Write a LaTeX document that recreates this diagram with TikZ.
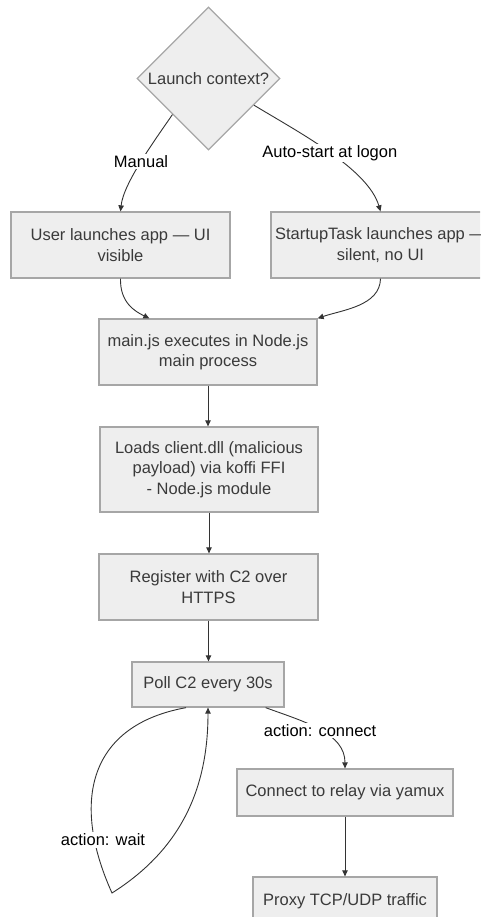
\documentclass[tikz,border=0pt]{standalone}
\usepackage{fontspec}
\setmainfont{Liberation Sans}[Ligatures=NoCommon]
\usetikzlibrary{shapes.geometric,arrows.meta,calc}
\definecolor{boxfill}{HTML}{EEEEEE}
\definecolor{boxline}{HTML}{A6A6A6}
\definecolor{boxtext}{HTML}{3A3A3A}
\definecolor{edgecol}{HTML}{333333}
\begin{document}
\begin{tikzpicture}[x=1pt,y=-1pt,
  every node/.style={font=\fontsize{16.5}{20.5}\selectfont},
  box/.style={draw=boxline, line width=1.3pt, fill=boxfill, text=boxtext, align=center, inner sep=0pt},
  decision/.style={diamond, aspect=1, draw=boxline, line width=1.3pt, fill=boxfill, text=boxtext, inner sep=0pt, minimum width=143pt, minimum height=143pt},
  conn/.style={draw=edgecol, line width=0.9pt, -{Triangle[length=6pt,width=5.5pt]}},
  plain/.style={draw=edgecol, line width=0.9pt},
  elabel/.style={fill=white, text=black, inner sep=1.5pt}
]
\useasboundingbox (0,0) rectangle (480,917);
\clip (0,0) rectangle (480,917);

\node[decision] (d) at (208.5,78.5) {Launch context?};
\node[box, minimum width=219pt, minimum height=66pt] (left) at (120.5,245) {User launches app — UI\\visible};
\node[box, minimum width=219pt, minimum height=66pt] (right) at (380.5,245) {StartupTask launches app —\\silent, no UI};
\node[box, minimum width=218pt, minimum height=66pt] (mainjs) at (208,352) {main.js executes in Node.js\\main process};
\node[box, minimum width=218pt, minimum height=85pt] (loads) at (209,469.5) {Loads client.dll (malicious\\payload) via koffi FFI\\- Node.js module};
\node[box, minimum width=219pt, minimum height=66pt] (reg) at (208.5,587) {Register with C2 over\\HTTPS};
\node[box, minimum width=152pt, minimum height=45pt] (poll) at (208,684.5) {Poll C2 every 30s};
\node[box, minimum width=216pt, minimum height=47pt] (relay) at (345,792.5) {Connect to relay via yamux};
\node[box, minimum width=184pt, minimum height=48pt] (proxy) at (345,901) {Proxy TCP/UDP traffic};

\coordinate (dr) at ($(d.east)!0.37!(d.south)$);
\coordinate (pollL) at ([xshift=-22pt]poll.south);
\coordinate (pollR) at ([xshift=-19pt]poll.south east);
\coordinate (loopbot) at (112,893);

% decision branches
\draw[conn] (d.south west) .. controls (155,140) and (123.5,183) .. (left.north)
  node[elabel, pos=0.5] {Manual};
\draw[conn] (dr) .. controls (300,133) and (368,169) .. (right.north)
  node[elabel, pos=0.5] {Auto-start at logon};

% merge
\draw[conn] (left.south) .. controls (120,302) and (134,311) .. ([xshift=51pt]mainjs.north west);
\draw[conn] (right.south) .. controls (380,306) and (342,310) .. (mainjs.north east);

% straight chain
\draw[conn] (mainjs.south) -- (mainjs.south |- loads.north);
\draw[conn] (loads.south) -- (loads.south |- reg.north);
\draw[conn] (reg.south) -- (reg.south |- poll.north);

% poll -> connect
\draw[conn] (pollR) .. controls (305,722) and (345,733) .. (relay.north)
  node[elabel, pos=0.5] {action: connect};
\draw[conn] (relay.south) -- (proxy.north);

% wait loop
\draw[conn] (pollL) .. controls (90,725) and (70,800) .. (loopbot)
  .. controls (180,850) and (208,790) .. (poll.south);
\node[elabel] (wlab) at (103,840) {action: wait};
\end{tikzpicture}
\end{document}
